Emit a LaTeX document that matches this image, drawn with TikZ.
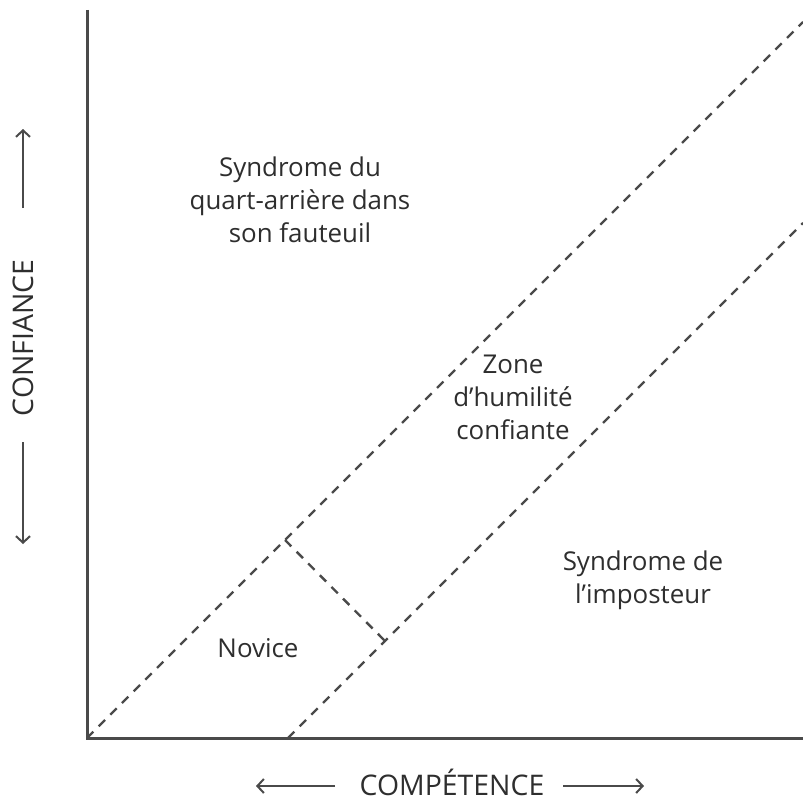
\documentclass[tikz,border=0pt]{standalone}
\usepackage{fontspec}
\setmainfont{Open Sans}
\usetikzlibrary{arrows.meta}
\definecolor{ink}{HTML}{4A4A4A}
\definecolor{txt}{HTML}{2E2E2E}
\begin{document}
\begin{tikzpicture}[x=1bp,y=-1bp,
  axisline/.style={draw=ink,line width=3bp},
  zoneline/.style={draw=ink,line width=2.4bp,dash pattern=on 9bp off 7.5bp},
  dirarrow/.style={draw=ink,line width=2bp,-{Straight Barb[length=6.5bp,width=14bp,line width=2bp]}},
  label/.style={text=txt,align=center,inner sep=0pt,font=\fontsize{26}{33}\selectfont},
  axislabel/.style={text=txt,inner sep=0pt,font=\fontsize{28.5}{32}\selectfont}]
\useasboundingbox (0,0) rectangle (803,801);
% frame corners and diagonal end points
\coordinate (top) at (87,10);
\coordinate (origin) at (87,738);
\coordinate (right) at (803,738);
\coordinate (d1end) at (803,22);
\coordinate (d2start) at (288,738);
\coordinate (d2end) at (803,223);
\coordinate (n1) at (285,540);
\coordinate (n2) at (385,641);
% axes
\draw[axisline] (top) -- (origin) -- (right);
% zone boundaries
\draw[zoneline] (origin) -- (d1end);
\draw[zoneline] (d2start) -- (d2end);
\draw[zoneline] (n1) -- (n2);
% region labels
\node[label] (qb) at (300,200) {Syndrome du\\quart-arrière dans\\son fauteuil};
\node[label] (zone) at (513,397) {Zone\\d’humilité\\confiante};
\node[label] (imp) at (643,580) {Syndrome de\\l’imposteur};
\node[label] (nov) at (258,648) {Novice};
% axis titles with direction arrows
\node[axislabel,rotate=90,anchor=base] (conf) at (33,338) {CONFIANCE};
\coordinate (cu1) at (23,208); \coordinate (cu2) at (23,129);
\coordinate (cd1) at (23,442); \coordinate (cd2) at (23,544);
\draw[dirarrow] (cu1) -- (cu2);
\draw[dirarrow] (cd1) -- (cd2);
\node[axislabel,anchor=base] (comp) at (452,795) {COMPÉTENCE};
\coordinate (cl1) at (335,786); \coordinate (cl2) at (256,786);
\coordinate (cr1) at (563,786); \coordinate (cr2) at (644,786);
\draw[dirarrow] (cl1) -- (cl2);
\draw[dirarrow] (cr1) -- (cr2);
\end{tikzpicture}
\end{document}
